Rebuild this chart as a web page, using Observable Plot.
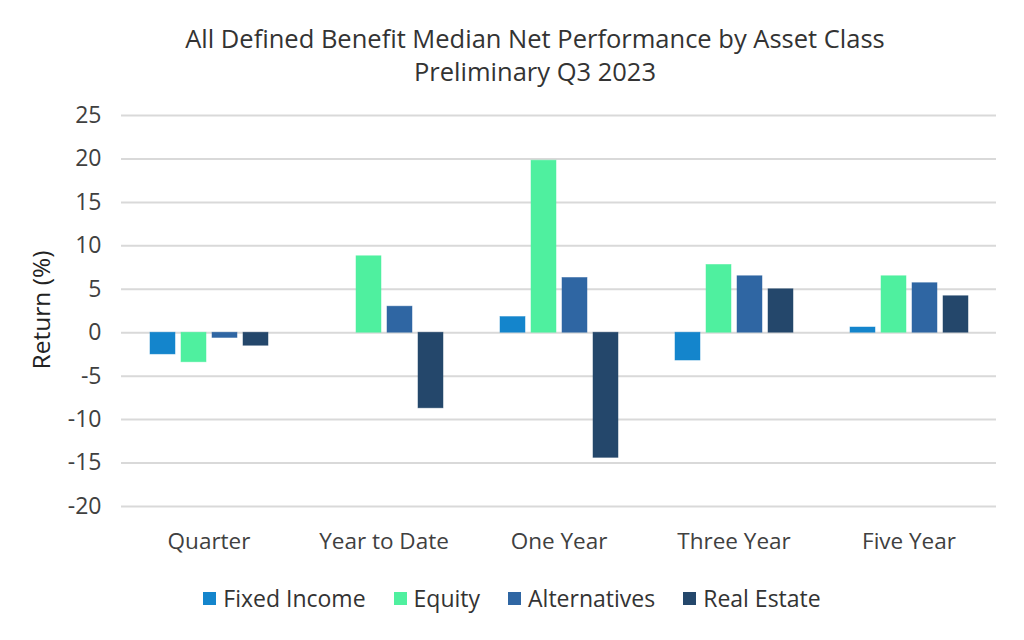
<!DOCTYPE html>
<html>
<head>
<meta charset="utf-8">
<script src="https://cdn.jsdelivr.net/npm/d3@7"></script>
<script src="https://cdn.jsdelivr.net/npm/@observablehq/plot@0.6"></script>
<style>
  html, body { margin: 0; padding: 0; background: #fff; }
  body { width: 1024px; height: 640px; position: relative; font-family: "Open Sans", Lato, sans-serif; color: #404040; overflow: hidden; }
  #title { position: absolute; top: 22px; left: 0; width: 1070px; text-align: center; font-size: 25.5px; line-height: 33px; color: #333; }
  #chart { position: absolute; top: 95px; left: 0; }
  #ylabel { position: absolute; z-index: 5; left: 40px; top: 310px; transform: translate(-50%, -50%) rotate(-90deg); font-size: 24.5px; color: #222; white-space: nowrap; }
  #legend { position: absolute; top: 582px; left: 0; width: 1024px; display: flex; justify-content: center; gap: 28px; font-size: 23px; color: #333; padding-left: 0; }
  #legend .item { display: flex; align-items: center; gap: 7px; }
  #legend .sw { width: 13px; height: 13px; display: inline-block; }
</style>
</head>
<body>
<div id="title">All Defined Benefit Median Net Performance by Asset Class<br>Preliminary Q3 2023</div>
<div id="chart"></div>
<div id="ylabel">Return (%)</div>
<div id="legend"></div>
<script>
const periods = ["Quarter", "Year to Date", "One Year", "Three Year", "Five Year"];
const assetClasses = ["Fixed Income", "Equity", "Alternatives", "Real Estate"];
const colors = ["#1485cc", "#4ff09f", "#2f66a3", "#24476b"];
const fixedIncome = [-2.5, 0.0, 1.8, -3.2, 0.6];
const equity = [-3.4, 8.8, 19.8, 7.8, 6.5];
const alternatives = [-0.6, 3.0, 6.3, 6.5, 5.7];
const realEstate = [-1.5, -8.7, -14.4, 5.0, 4.2];
const yTicks = [25, 20, 15, 10, 5, 0, -5, -10, -15, -20];

const series = [fixedIncome, equity, alternatives, realEstate];
const data = [];
periods.forEach((p, i) => {
  assetClasses.forEach((a, j) => {
    data.push({period: p, asset: a, value: series[j][i]});
  });
});

const chart = Plot.plot({
  width: 1024,
  height: 470,
  marginLeft: 120,
  marginRight: 27,
  marginTop: 20,
  marginBottom: 59,
  style: {fontFamily: "'Open Sans', Lato, sans-serif", fontSize: "19px", color: "#404040", background: "#fff"},
  fx: {domain: periods, padding: 0, label: null},
  x: {domain: assetClasses, paddingInner: 0.2, paddingOuter: 0.85, axis: null},
  y: {domain: [-20, 25], ticks: yTicks, label: null},
  color: {domain: assetClasses, range: colors},
  marks: [
    Plot.ruleY(yTicks, {stroke: "#d9d9d9", strokeWidth: 2}),
    Plot.barY(data, {fx: "period", x: "asset", y: "value", fill: "asset", stroke: "asset", strokeOpacity: 0.6, strokeWidth: 0.8}),
    Plot.axisY({ticks: yTicks, tickSize: 0, tickPadding: 20, label: null, fontSize: 23, tickFormat: d => String(d)}),
    Plot.axisFx({anchor: "bottom", tickSize: 0, tickPadding: 27, label: null, fontSize: 22.5})
  ]
});
document.getElementById("chart").appendChild(chart);

const legend = document.getElementById("legend");
assetClasses.forEach((a, j) => {
  const item = document.createElement("div");
  item.className = "item";
  const sw = document.createElement("span");
  sw.className = "sw";
  sw.style.background = colors[j];
  const t = document.createElement("span");
  t.textContent = a;
  item.appendChild(sw);
  item.appendChild(t);
  legend.appendChild(item);
});
</script>
</body>
</html>
